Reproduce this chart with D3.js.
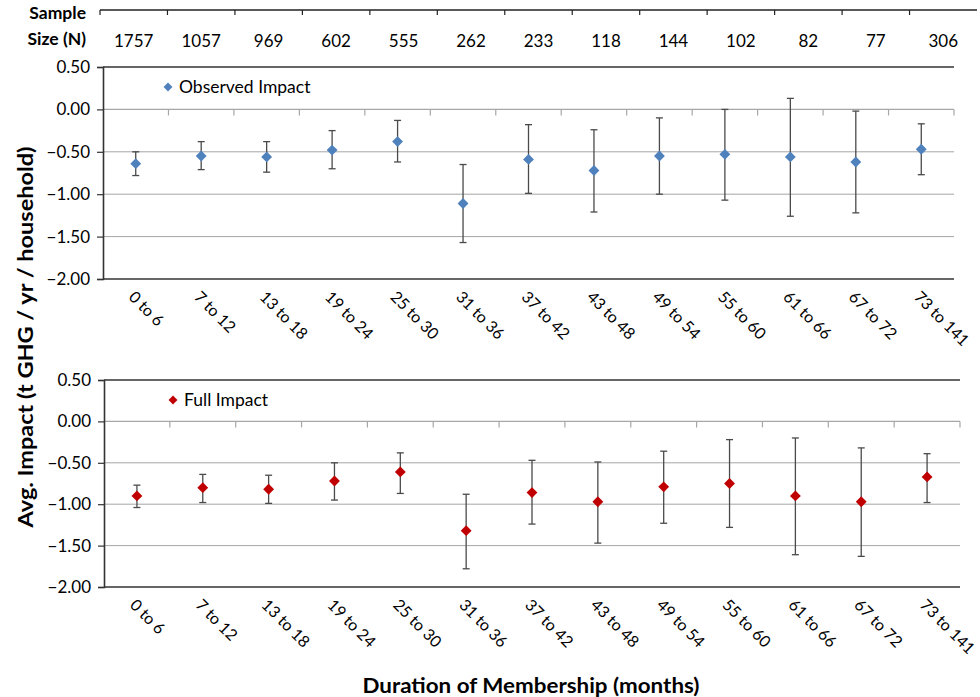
<!DOCTYPE html>
<html lang="en">
<head>
<meta charset="utf-8">
<title>Avg. Impact by Duration of Membership</title>
<script src="https://cdn.jsdelivr.net/npm/d3@7"></script>
<style>
  body { margin: 0; background: #fff; }
  svg text { font-family: Lato, "Noto Sans", sans-serif; fill: #000; }
</style>
</head>
<body>
<script>
// chart data
var categories = ["0 to 6", "7 to 12", "13 to 18", "19 to 24", "25 to 30", "31 to 36", "37 to 42",
                  "43 to 48", "49 to 54", "55 to 60", "61 to 66", "67 to 72", "73 to 141"];
var sampleSizes = [1757, 1057, 969, 602, 555, 262, 233, 118, 144, 102, 82, 77, 306];

var observedMean = [-0.64, -0.55, -0.56, -0.48, -0.38, -1.11, -0.59, -0.72, -0.55, -0.53, -0.56, -0.62, -0.47];
var observedHigh = [-0.50, -0.38, -0.38, -0.25, -0.13, -0.65, -0.18, -0.24, -0.10, 0.00, 0.13, -0.02, -0.17];
var observedLow  = [-0.78, -0.71, -0.74, -0.70, -0.62, -1.57, -0.99, -1.21, -1.00, -1.07, -1.26, -1.22, -0.77];

var fullMean = [-0.90, -0.80, -0.82, -0.72, -0.61, -1.32, -0.86, -0.97, -0.79, -0.75, -0.90, -0.97, -0.67];
var fullHigh = [-0.77, -0.64, -0.65, -0.50, -0.38, -0.88, -0.47, -0.49, -0.36, -0.22, -0.20, -0.32, -0.39];
var fullLow  = [-1.04, -0.98, -0.99, -0.95, -0.87, -1.78, -1.24, -1.47, -1.23, -1.28, -1.61, -1.63, -0.98];

var yTicks = [0.5, 0, -0.5, -1, -1.5, -2];

var width = 980;
var height = 697;

var svg = d3.select("body").append("svg")
    .attr("width", width)
    .attr("height", height);

// sample size strip on top
var xTop = d3.scaleBand().domain(categories).range([100, 977]);
var topAxis = svg.append("g");
topAxis.append("line")
    .attr("x1", 100).attr("x2", 977).attr("y1", 10).attr("y2", 10)
    .attr("stroke", "#222").attr("stroke-width", 1.5);
topAxis.selectAll("line.tk")
    .data(categories)
    .enter().append("line")
    .attr("class", "tk")
    .attr("x1", function(d) { return xTop(d); })
    .attr("x2", function(d) { return xTop(d); })
    .attr("y1", 10).attr("y2", 15)
    .attr("stroke", "#222").attr("stroke-width", 1.2);
topAxis.selectAll("text")
    .data(sampleSizes)
    .enter().append("text")
    .attr("x", function(d, i) { return xTop(categories[i]) + xTop.bandwidth() / 2; })
    .attr("y", 47)
    .attr("text-anchor", "middle")
    .style("font-size", "17px")
    .text(function(d) { return d; });

svg.append("text").attr("x", 86).attr("y", 19).attr("text-anchor", "end")
    .style("font-size", "17.5px").style("font-weight", "bold").text("Sample");
svg.append("text").attr("x", 86).attr("y", 45).attr("text-anchor", "end")
    .style("font-size", "17.5px").style("font-weight", "bold").text("Size (N)");

function drawPanel(opts) {
    var x = d3.scaleBand().domain(categories).range([opts.left, opts.right]);
    var y = d3.scaleLinear().domain([-2, 0.5]).range([opts.bottom, opts.top]);
    var g = svg.append("g");

    // gridlines
    g.selectAll("line.grid")
        .data([-0.5, -1, -1.5])
        .enter().append("line")
        .attr("x1", opts.left).attr("x2", opts.right)
        .attr("y1", function(d) { return y(d); })
        .attr("y2", function(d) { return y(d); })
        .attr("stroke", "#a6a6a6").attr("stroke-width", 1);

    // category axis crossing at zero, ticks hang downward
    g.append("line")
        .attr("x1", opts.left).attr("x2", opts.right)
        .attr("y1", y(0)).attr("y2", y(0))
        .attr("stroke", "#a6a6a6").attr("stroke-width", 1.2);
    g.selectAll("line.ctick")
        .data(categories)
        .enter().append("line")
        .attr("x1", function(d) { return x(d) + x.bandwidth(); })
        .attr("x2", function(d) { return x(d) + x.bandwidth(); })
        .attr("y1", y(0)).attr("y2", y(0) + 6)
        .attr("stroke", "#a6a6a6").attr("stroke-width", 1.2);

    // frame lines
    g.append("line")
        .attr("x1", opts.left).attr("x2", opts.right)
        .attr("y1", y(0.5)).attr("y2", y(0.5))
        .attr("stroke", "#333").attr("stroke-width", 1.6);
    g.append("line")
        .attr("x1", opts.left).attr("x2", opts.right)
        .attr("y1", y(-2)).attr("y2", y(-2))
        .attr("stroke", "#333").attr("stroke-width", 1.6);

    // value axis
    var yAxis = d3.axisLeft(y).tickValues(yTicks).tickSize(6).tickPadding(7)
        .tickFormat(d3.format(".2f"));
    var ya = g.append("g")
        .attr("transform", "translate(" + opts.left + ",0)")
        .call(yAxis);
    ya.select(".domain").attr("stroke", "#333").attr("stroke-width", 1.6);
    ya.selectAll(".tick line").attr("stroke", "#333").attr("stroke-width", 1.2);
    ya.selectAll(".tick text")
        .style("font-size", "17px")
        .style("font-family", "Lato, 'Noto Sans', sans-serif")
        .attr("fill", "#000");

    // rotated category labels
    g.selectAll("text.cat")
        .data(categories)
        .enter().append("text")
        .attr("class", "cat")
        .attr("transform", function(d) {
            return "translate(" + (x(d) + x.bandwidth() / 2 - 8) + "," + (opts.bottom + 19) + ") rotate(45)";
        })
        .style("font-size", "16px")
        .text(function(d) { return d; });

    // error bars
    var cx = function(i) { return x(categories[i]) + x.bandwidth() / 2; };
    var bars = g.selectAll("g.err")
        .data(opts.mean)
        .enter().append("g");
    bars.append("line")
        .attr("x1", function(d, i) { return cx(i); })
        .attr("x2", function(d, i) { return cx(i); })
        .attr("y1", function(d, i) { return y(opts.high[i]); })
        .attr("y2", function(d, i) { return y(opts.low[i]); })
        .attr("stroke", "#4a4a4a").attr("stroke-width", 1.3);
    bars.append("line")
        .attr("x1", function(d, i) { return cx(i) - 3.5; })
        .attr("x2", function(d, i) { return cx(i) + 3.5; })
        .attr("y1", function(d, i) { return y(opts.high[i]); })
        .attr("y2", function(d, i) { return y(opts.high[i]); })
        .attr("stroke", "#4a4a4a").attr("stroke-width", 1.3);
    bars.append("line")
        .attr("x1", function(d, i) { return cx(i) - 3.5; })
        .attr("x2", function(d, i) { return cx(i) + 3.5; })
        .attr("y1", function(d, i) { return y(opts.low[i]); })
        .attr("y2", function(d, i) { return y(opts.low[i]); })
        .attr("stroke", "#4a4a4a").attr("stroke-width", 1.3);

    // diamond markers
    var diamond = d3.symbol().type(d3.symbolDiamond2).size(75);
    g.selectAll("path.pt")
        .data(opts.mean)
        .enter().append("path")
        .attr("d", diamond)
        .attr("transform", function(d, i) { return "translate(" + cx(i) + "," + y(d) + ")"; })
        .attr("fill", opts.color);

    // legend
    g.append("path")
        .attr("d", d3.symbol().type(d3.symbolDiamond2).size(50))
        .attr("transform", "translate(" + opts.legendX + "," + (opts.top + 20) + ")")
        .attr("fill", opts.color);
    g.append("text")
        .attr("x", opts.legendX + 11)
        .attr("y", opts.top + 26)
        .style("font-size", "17.5px")
        .text(opts.name);
}

drawPanel({
    left: 103, right: 954, top: 67, bottom: 279,
    mean: observedMean, high: observedHigh, low: observedLow,
    color: "#4f81bd", name: "Observed Impact", legendX: 168
});

drawPanel({
    left: 104, right: 960, top: 380, bottom: 587,
    mean: fullMean, high: fullHigh, low: fullLow,
    color: "#c00000", name: "Full Impact", legendX: 173
});

// axis titles
svg.append("text")
    .attr("transform", "translate(33,337) rotate(-90)")
    .attr("text-anchor", "middle")
    .attr("textLength", 381).attr("lengthAdjust", "spacingAndGlyphs")
    .style("font-size", "20px").style("font-weight", "bold")
    .text("Avg. Impact (t GHG / yr / household)");

svg.append("text")
    .attr("x", 531).attr("y", 693)
    .attr("text-anchor", "middle")
    .attr("textLength", 337).attr("lengthAdjust", "spacingAndGlyphs")
    .style("font-size", "20.5px").style("font-weight", "bold")
    .text("Duration of Membership (months)");
</script>
</body>
</html>
